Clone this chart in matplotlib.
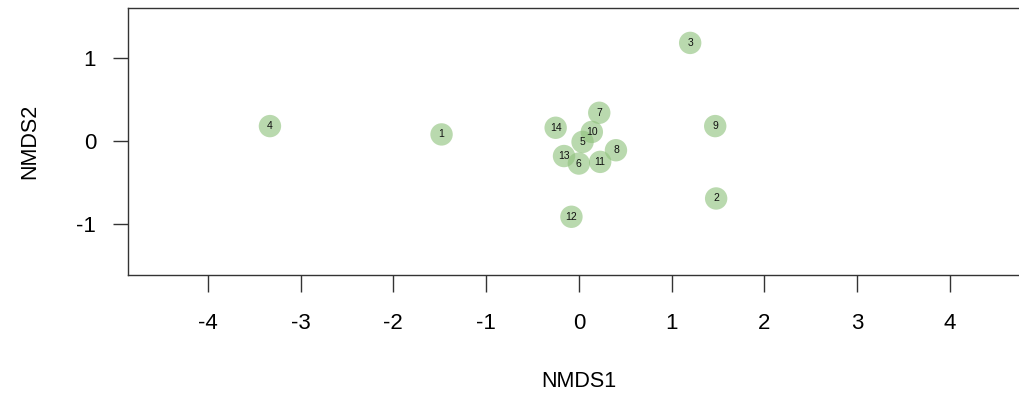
import matplotlib
matplotlib.use("Agg")
import matplotlib.pyplot as plt

plt.rcParams['font.family'] = ['Liberation Sans', 'DejaVu Sans']

# site scores
site_ids = ["1", "2", "3", "4", "5", "6", "7", "8", "9", "10", "11", "12", "13", "14"]
nmds1 = [-1.48, 1.48, 1.20, -3.33, 0.04, 0.00, 0.22, 0.40, 1.47, 0.14, 0.23, -0.08, -0.16, -0.25]
nmds2 = [0.08, -0.69, 1.18, 0.18, -0.01, -0.27, 0.34, -0.11, 0.18, 0.11, -0.25, -0.91, -0.18, 0.16]

x_ticks = [-4, -3, -2, -1, 0, 1, 2, 3, 4]
y_ticks = [-1, 0, 1]

fig = plt.figure(figsize=(10.2, 3.98), dpi=100)
ax = fig.add_axes([0.1255, 0.309, 0.884, 0.671])

ax.scatter(nmds1, nmds2, s=260, color='#8fc27c', alpha=0.62, edgecolors='none', zorder=2)
for lab, x, y in zip(site_ids, nmds1, nmds2):
    ax.text(x, y, lab, ha='center', va='center', fontsize=7.5, color='#111111', zorder=3)

ax.set_xlim(-4.86, 4.86)
ax.set_ylim(-1.61, 1.60)
ax.set_xticks(x_ticks)
ax.set_yticks(y_ticks)
ax.set_xticklabels([str(v) for v in x_ticks])
ax.set_yticklabels([str(v) for v in y_ticks])
ax.tick_params(axis='x', length=12, width=1, color='#333333', labelsize=16, pad=15)
ax.tick_params(axis='y', length=11, width=1, color='#333333', labelsize=16, pad=12)

for sp in ax.spines.values():
    sp.set_color('#333333')
    sp.set_linewidth(1)

ax.set_xlabel('NMDS1', fontsize=15.5, labelpad=27)
ax.set_ylabel('NMDS2', fontsize=15.5, labelpad=26)

fig.savefig('out.png', dpi=100)
